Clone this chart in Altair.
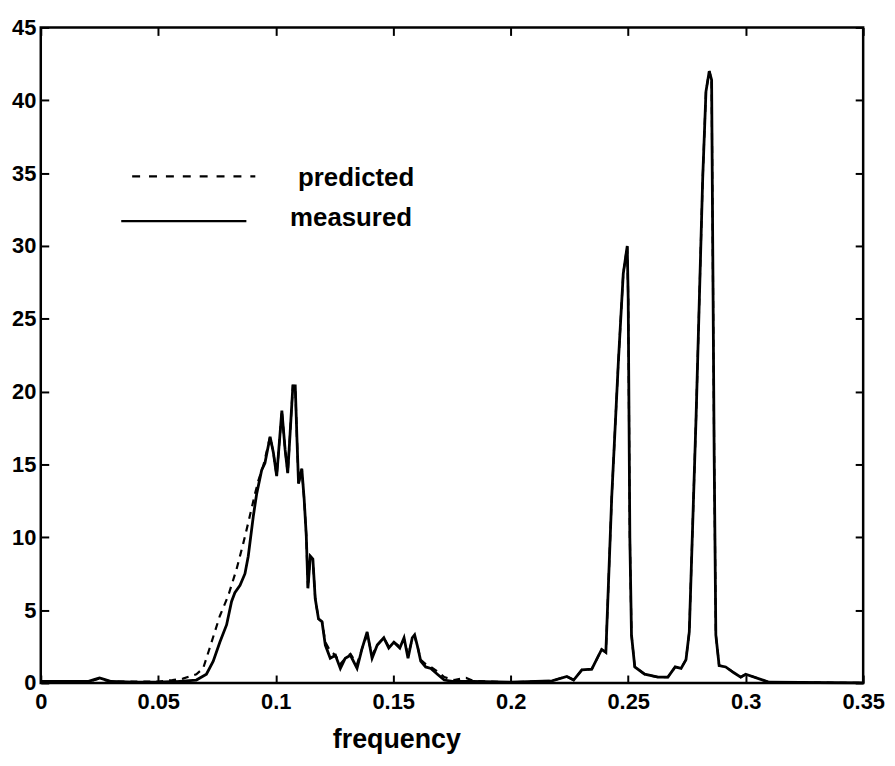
import altair as alt
import pandas as pd

# ---------------- data ----------------
meas_x = [0.000, 0.010, 0.020, 0.023, 0.025, 0.027, 0.030, 0.040, 0.050, 0.0577,
          0.0662, 0.0705, 0.0734, 0.0762, 0.0791, 0.0812, 0.0826, 0.0848, 0.0869, 0.0883,
          0.0905, 0.0919, 0.0940, 0.0954, 0.0976, 0.0990, 0.1004, 0.1026, 0.1040, 0.1051,
          0.1061, 0.1073, 0.1083, 0.1090, 0.1097, 0.1111, 0.1121, 0.1130, 0.1137, 0.1147,
          0.1158, 0.1168, 0.1182, 0.1197, 0.1211, 0.1232, 0.1254, 0.1275, 0.1296, 0.1318,
          0.1346, 0.1368, 0.1389, 0.1410, 0.1432, 0.1460, 0.1481, 0.1503, 0.1528, 0.1546,
          0.1563, 0.1581, 0.1591, 0.1605, 0.1617, 0.1638, 0.1660, 0.1688, 0.1717, 0.1759,
          0.1840, 0.2000, 0.2176, 0.2239, 0.2268, 0.2303, 0.2345, 0.2387, 0.2405, 0.2430,
          0.2458, 0.2479, 0.2496, 0.2500, 0.2507, 0.2514, 0.2528, 0.2570, 0.2627, 0.2669,
          0.2700, 0.2725, 0.2746, 0.2760, 0.2789, 0.2817, 0.2831, 0.2845, 0.2855, 0.2859,
          0.2866, 0.2873, 0.2887, 0.2915, 0.2950, 0.2979, 0.3000, 0.3100, 0.3500]
meas_y = [0.1, 0.1, 0.1, 0.25, 0.35, 0.25, 0.1, 0.05, 0.05, 0.1,
          0.2, 0.6, 1.5, 2.8, 4.0, 5.6, 6.2, 6.7, 7.5, 8.7,
          11.5, 13.0, 14.6, 15.1, 16.9, 15.8, 14.2, 18.7, 16.0, 14.4,
          17.1, 20.4, 20.4, 16.9, 13.7, 14.7, 12.6, 10.1, 6.5, 8.7,
          8.5, 5.8, 4.4, 4.2, 2.6, 1.7, 1.9, 1.0, 1.7, 1.9,
          1.0, 2.4, 3.5, 1.7, 2.6, 3.1, 2.4, 2.8, 2.4, 3.1,
          1.7, 3.1, 3.3, 2.4, 1.5, 1.1, 1.0, 0.6, 0.2, 0.1,
          0.1, 0.05, 0.15, 0.45, 0.2, 0.9, 0.95, 2.3, 2.1, 12.8,
          22.0, 28.1, 30.0, 26.4, 10.0, 3.3, 1.1, 0.6, 0.4, 0.4,
          1.1, 1.0, 1.6, 3.5, 18.3, 34.6, 40.6, 42.0, 41.4, 31.9,
          15.5, 3.3, 1.2, 1.1, 0.7, 0.4, 0.6, 0.05, 0.0]

pred_x = [0.000, 0.020, 0.023, 0.025, 0.027, 0.030, 0.050, 0.0560, 0.0605, 0.0662,
          0.0691, 0.0719, 0.0762, 0.0798, 0.0833, 0.0862, 0.0883, 0.0912, 0.0926, 0.0947,
          0.0976, 0.0990, 0.1004, 0.1026, 0.1040, 0.1051, 0.1061, 0.1073, 0.1083, 0.1090,
          0.1097, 0.1111, 0.1121, 0.1130, 0.1137, 0.1147, 0.1158, 0.1168, 0.1182, 0.1197,
          0.1211, 0.1232, 0.1254, 0.1275, 0.1296, 0.1318, 0.1346, 0.1368, 0.1389, 0.1410,
          0.1432, 0.1460, 0.1481, 0.1503, 0.1528, 0.1546, 0.1563, 0.1581, 0.1591, 0.1605,
          0.1617, 0.1638, 0.1660, 0.1688, 0.1717, 0.1759, 0.1790, 0.1810, 0.1840, 0.2000,
          0.2176, 0.2239, 0.2268, 0.2303, 0.2345, 0.2387, 0.2405, 0.2430, 0.2458, 0.2479,
          0.2496, 0.2500, 0.2507, 0.2514, 0.2528, 0.2570, 0.2627, 0.2669, 0.2700, 0.2725,
          0.2746, 0.2760, 0.2789, 0.2817, 0.2831, 0.2845, 0.2855, 0.2859, 0.2866, 0.2873,
          0.2887, 0.2915, 0.2950, 0.2979, 0.3000, 0.3100, 0.3500]
pred_y = [0.1, 0.1, 0.2, 0.3, 0.2, 0.1, 0.1, 0.2, 0.3, 0.6,
          1.0, 2.4, 4.6, 6.0, 7.8, 9.6, 11.0, 13.0, 13.9, 14.9,
          16.9, 15.8, 14.2, 18.7, 16.0, 14.4, 17.1, 20.4, 20.4, 16.9,
          13.7, 14.7, 12.6, 10.1, 6.5, 8.7, 8.5, 5.8, 4.4, 4.2,
          2.8, 2.2, 1.9, 1.3, 1.7, 2.0, 1.3, 2.4, 3.3, 1.9,
          2.6, 3.1, 2.5, 2.8, 2.5, 3.0, 1.9, 3.0, 3.2, 2.4,
          1.6, 1.3, 1.1, 0.8, 0.4, 0.2, 0.3, 0.35, 0.15, 0.05,
          0.15, 0.45, 0.2, 0.9, 0.95, 2.3, 2.1, 12.8, 22.0, 28.1,
          30.0, 26.4, 10.0, 3.3, 1.1, 0.6, 0.4, 0.4, 1.1, 1.0,
          1.6, 3.5, 18.3, 34.6, 40.6, 42.0, 41.4, 31.9, 15.5, 3.3,
          1.2, 1.1, 0.7, 0.4, 0.6, 0.05, 0.0]

x_ticks = [0, 0.05, 0.1, 0.15, 0.2, 0.25, 0.3, 0.35]
y_ticks = [0, 5, 10, 15, 20, 25, 30, 35, 40, 45]
legend_labels = ["predicted", "measured"]
x_title = "frequency"

# ---------------- chart ----------------
FONT = "Liberation Sans"
W, H = 828, 660

meas = pd.DataFrame({"f": meas_x, "v": meas_y})
pred = pd.DataFrame({"f": pred_x, "v": pred_y})

xscale = alt.Scale(domain=[0, 0.35], nice=False, zero=False)
yscale = alt.Scale(domain=[0, 45], nice=False)

x_axis = alt.Axis(values=x_ticks, format="~g", labelFlush=False, offset=-8, tickSize=8,
                  labelPadding=9, title=x_title, titleX=358, titleY=52, titleAlign="center",
                  titleBaseline="top", titleFont=FONT, titleFontSize=27, titleFontWeight="bold",
                  titleColor="black")
y_axis = alt.Axis(values=y_ticks, offset=-8, tickSize=8, labelPadding=5, title=None)
x_top = alt.Axis(orient="top", values=x_ticks, labels=False, offset=-8, tickSize=8, title=None)
y_right = alt.Axis(orient="right", values=y_ticks, labels=False, offset=-8, tickSize=8, title=None)

pred_line = alt.Chart(pred).mark_line(color="black", strokeWidth=2.2, strokeDash=[7, 6]).encode(
    x=alt.X("f:Q", scale=xscale, axis=None),
    y=alt.Y("v:Q", scale=yscale, axis=None),
)
meas_line = alt.Chart(meas).mark_line(color="black", strokeWidth=2.8).encode(
    x=alt.X("f:Q", scale=xscale, axis=x_axis),
    y=alt.Y("v:Q", scale=yscale, axis=y_axis),
)
frame_axes = alt.Chart(meas).mark_line(opacity=0).encode(
    x=alt.X("f:Q", scale=xscale, axis=x_top),
    y=alt.Y("v:Q", scale=yscale, axis=y_right),
)

pred_key = alt.Chart(pd.DataFrame({"label": [legend_labels[0]]}))
meas_key = alt.Chart(pd.DataFrame({"label": [legend_labels[1]]}))

leg_rule_pred = pred_key.mark_rule(color="black", strokeWidth=2.2, strokeDash=[8, 9]).encode(
    x=alt.value(92), x2=alt.value(216), y=alt.value(150))
leg_rule_meas = meas_key.mark_rule(color="black", strokeWidth=2.2).encode(
    x=alt.value(81), x2=alt.value(207), y=alt.value(195))
leg_text_pred = pred_key.mark_text(align="left", baseline="middle", font=FONT, fontSize=26,
                                   fontWeight="bold", color="black").encode(
    text="label:N", x=alt.value(259), y=alt.value(152))
leg_text_meas = meas_key.mark_text(align="left", baseline="middle", font=FONT, fontSize=26,
                                   fontWeight="bold", color="black").encode(
    text="label:N", x=alt.value(251), y=alt.value(192))

chart = alt.layer(
    pred_line, meas_line, frame_axes,
    leg_rule_pred, leg_rule_meas, leg_text_pred, leg_text_meas,
).resolve_axis(x="independent", y="independent").properties(
    width=W, height=H,
    autosize=alt.AutoSizeParams(type="none"),
    padding={"left": 33, "top": 17, "right": 24, "bottom": 78},
    background="white",
).configure_view(
    stroke="black", strokeWidth=2.5
).configure_axis(
    domain=False, grid=False, tickColor="black", tickWidth=2,
    labelFont=FONT, labelFontSize=22, labelFontWeight="bold", labelColor="black",
)

chart.save("out.html", embed_options={"renderer": "svg", "actions": False})
